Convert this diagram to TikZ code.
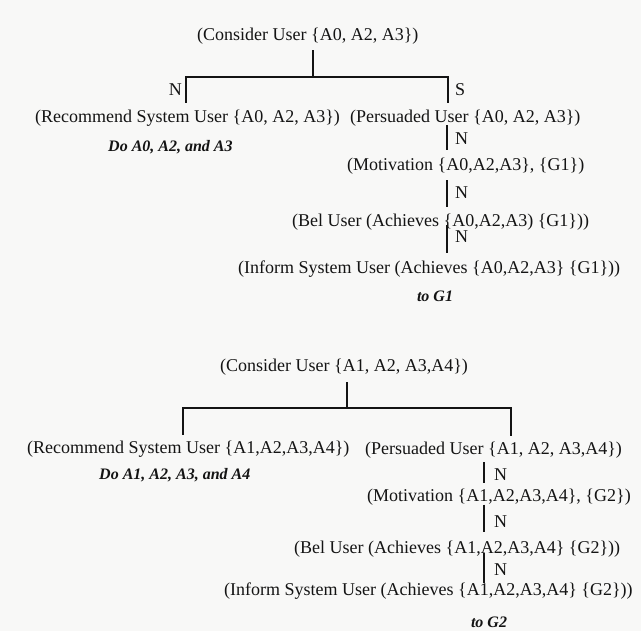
\documentclass[tikz,border=0pt]{standalone}
\usepackage{fontspec}
\setmainfont{Liberation Serif}
\definecolor{ink}{HTML}{141414}
\definecolor{paper}{HTML}{F8F8F7}
\tikzset{
  lbl/.style={font=\fontsize{18bp}{20bp}\selectfont, inner sep=0pt, text height=12bp, text depth=3.5bp, anchor=base west, text=ink},
  emph/.style={font=\fontsize{16bp}{18bp}\selectfont\bfseries\itshape, inner sep=0pt, anchor=base west, text=ink},
  edgelbl/.style={font=\fontsize{18bp}{20bp}\selectfont, inner sep=0pt, text=ink},
  conn/.style={draw=ink, line width=1.5bp},
}
\begin{document}
\begin{tikzpicture}[x=1bp,y=-1bp]
\useasboundingbox (0,0) rectangle (641,631);
\fill[paper] (0,0) rectangle (641,631);

% ---------- top tree ----------
\node[lbl] (c1) at (197,41) {(Consider User \{A0, A2, A3\})};
\node[lbl] (r1) at (35,123) {(Recommend System User \{A0, A2, A3\})};
\node[lbl] (p1) at (350,123) {(Persuaded User \{A0, A2, A3\})};
\node[emph] (d1) at (108,152) {Do A0, A2, and A3};
\node[lbl] (m1) at (347,171) {(Motivation \{A0,A2,A3\}, \{G1\})};
\node[lbl] (b1) at (292,226) {(Bel User (Achieves \{A0,A2,A3) \{G1\}))};
\node[lbl] (i1) at (238,273) {(Inform System User (Achieves \{A0,A2,A3\} \{G1\}))};
\node[emph, anchor=base] (t1) at (435,301) {to G1};

\coordinate (j1) at (313,77);
\coordinate (bl1) at (186,77);
\coordinate (br1) at (448,77);
\coordinate (x1) at (447,0);

\node[edgelbl, anchor=east] (n1) at (182,90) {N};
\node[edgelbl, anchor=west] (s1) at (455,90) {S};
\node[edgelbl, anchor=west] (n2) at (455,139) {N};
\node[edgelbl, anchor=west] (n3) at (455,193) {N};
\node[edgelbl, anchor=west] (n4) at (455,237) {N};

\draw[conn, shorten <=5.5bp] (c1.south -| j1) -- (j1);
\draw[conn, shorten >=8bp] (j1) -- (bl1) -- (r1.north -| bl1);
\draw[conn, shorten >=8bp] (j1) -- (br1) -- (p1.north -| br1);
\draw[conn, shorten <=-1.5bp, shorten >=9bp] (p1.south -| x1) -- (m1.north -| x1);
\draw[conn, shorten <=5.5bp, shorten >=7bp] (m1.south -| x1) -- (b1.north -| x1);
\draw[conn, shorten <=-4.5bp, shorten >=8bp] (b1.south -| x1) -- (i1.north -| x1);

% ---------- bottom tree ----------
\node[lbl] (c2) at (220,371) {(Consider User \{A1, A2, A3,A4\})};
\node[lbl] (r2) at (27,453) {(Recommend System User \{A1,A2,A3,A4\})};
\node[lbl] (p2) at (365,454) {(Persuaded User \{A1, A2, A3,A4\})};
\node[emph] (d2) at (99,479) {Do A1, A2, A3, and A4};
\node[lbl] (m2) at (367,501) {(Motivation \{A1,A2,A3,A4\}, \{G2\})};
\node[lbl] (b2) at (294,553) {(Bel User (Achieves \{A1,A2,A3,A4\} \{G2\}))};
\node[lbl] (i2) at (224,595) {(Inform System User (Achieves \{A1,A2,A3,A4\} \{G2\}))};
\node[emph, anchor=base] (t2) at (489,627) {to G2};

\coordinate (j2) at (347,408);
\coordinate (bl2) at (183,408);
\coordinate (br2) at (511,408);
\coordinate (x2) at (484,0);

\node[edgelbl, anchor=west] (n5) at (494,475) {N};
\node[edgelbl, anchor=west] (n6) at (494,522) {N};
\node[edgelbl, anchor=west] (n7) at (494,570) {N};

\draw[conn, shorten <=7.5bp] (c2.south -| j2) -- (j2);
\draw[conn, shorten >=6bp] (j2) -- (bl2) -- (r2.north -| bl2);
\draw[conn, shorten >=6bp] (j2) -- (br2) -- (p2.north -| br2);
\draw[conn, shorten <=4.5bp, shorten >=6bp] (p2.south -| x2) -- (m2.north -| x2);
\draw[conn, shorten >=9bp] (m2.south -| x2) -- (b2.north -| x2);
\draw[conn, shorten <=-3.5bp, shorten >=0bp] (b2.south -| x2) -- (i2.north -| x2);
\end{tikzpicture}
\end{document}
